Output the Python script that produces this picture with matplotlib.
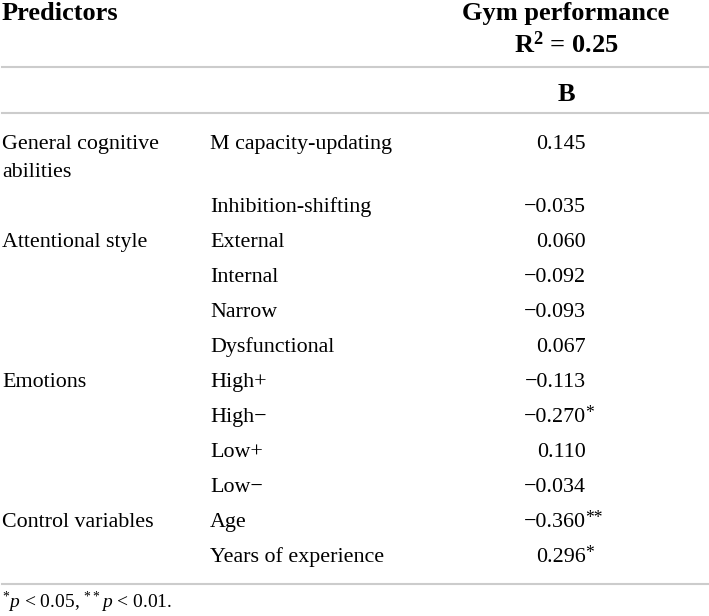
import matplotlib.pyplot as plt

# table content
groups = ["General cognitive\nabilities", "", "Attentional style", "", "", "",
          "Emotions", "", "", "", "Control variables", ""]
items = ["M capacity-updating", "Inhibition-shifting", "External", "Internal",
         "Narrow", "Dysfunctional", "High+", "High\u2212", "Low+", "Low\u2212",
         "Age", "Years of experience"]
values = [0.145, -0.035, 0.060, -0.092, -0.093, 0.067, -0.113, -0.270,
          0.110, -0.034, -0.360, 0.296]
stars = ["", "", "", "", "", "", "", "*", "", "", "**", "*"]

plt.rcParams['font.family'] = ['Liberation Serif', 'DejaVu Serif']
plt.rcParams['mathtext.fontset'] = 'custom'
plt.rcParams['mathtext.rm'] = 'Liberation Serif'
plt.rcParams['mathtext.it'] = 'Liberation Serif:italic'
plt.rcParams['mathtext.bf'] = 'Liberation Serif:bold'

W, H = 709, 616
fig = plt.figure(figsize=(W / 100, H / 100), dpi=100)
ax = fig.add_axes([0, 0, 1, 1])
ax.set_xlim(0, W)
ax.set_ylim(H, 0)
ax.axis('off')

fs = 15.8      # body text
hfs = 19       # bold header
col1, col2, col3 = 2, 210, 586
head_x = 566
line_kw = dict(color='#cccccc', linewidth=1.5)

# header
ax.text(col1, 20, "Predictors", fontsize=hfs, fontweight='bold', va='baseline')
ax.text(head_x, 20, "Gym performance", fontsize=hfs, fontweight='bold',
        va='baseline', ha='center')
ax.text(head_x, 53, r"R$^{\mathbf{2}}$ = 0.25", fontsize=hfs, fontweight='bold',
        va='baseline', ha='center')
ax.axhline(67, xmin=2 / W, **line_kw)
ax.text(head_x, 101, "B", fontsize=hfs, fontweight='bold', va='baseline',
        ha='center')
ax.axhline(113, xmin=2 / W, **line_kw)

# body rows
y = 149
for g, it, v, s in zip(groups, items, values, stars):
    lines = g.split("\n") if g else []
    for k, part in enumerate(lines):
        ax.text(col1, y + k * 28, part, fontsize=fs, va='baseline')
    ax.text(col2, y, it, fontsize=fs, va='baseline')
    txt = f"{v:.3f}".replace("-", "\u2212")
    ax.text(col3, y, txt, fontsize=fs, va='baseline', ha='right')
    if s:
        ax.text(col3 - 0.5, y - 4, s, fontsize=fs * 0.8, va='baseline',
                ha='left')
    y += 63 if len(lines) > 1 else 35

ax.axhline(584, xmin=2 / W, **line_kw)

# footnote
ax.text(col1, 608, r"$^{*}\mathit{p}$ < 0.05, $^{**}\mathit{p}$ < 0.01.",
        fontsize=14, va='baseline')

fig.savefig("out.png", dpi=100)
